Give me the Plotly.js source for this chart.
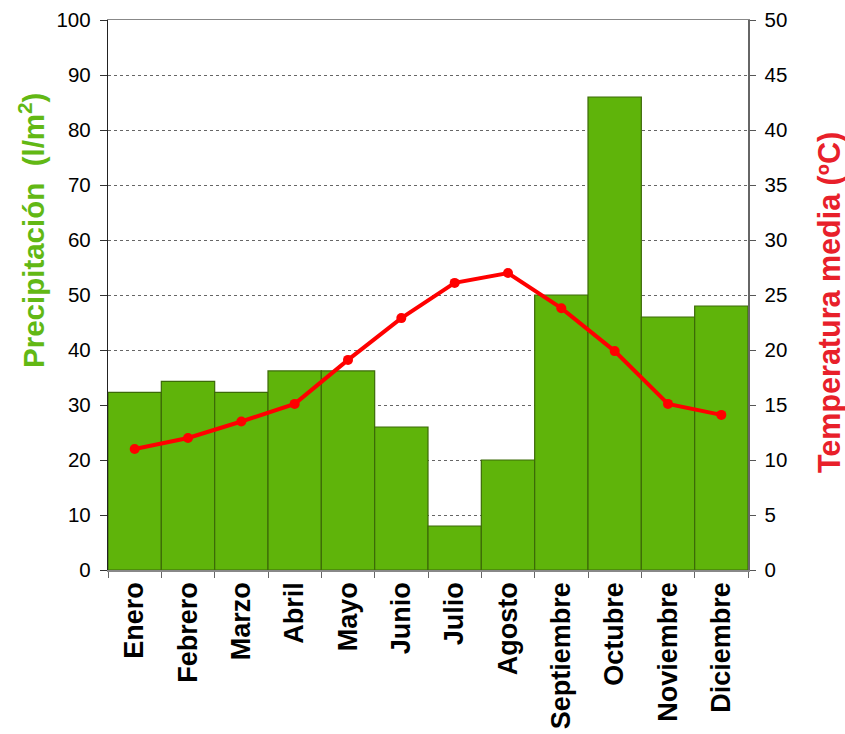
<!DOCTYPE html>
<html>
<head>
<meta charset="utf-8">
<script src="https://cdn.plot.ly/plotly-3.0.1.min.js"></script>
<style>html,body{margin:0;padding:0;background:#fff;}#chart{width:845px;height:734px;}</style>
</head>
<body>
<div id="chart"></div>
<script>
const months = ["Enero","Febrero","Marzo","Abril","Mayo","Junio","Julio","Agosto","Septiembre","Octubre","Noviembre","Diciembre"];
const precipitation = [32.3, 34.3, 32.3, 36.2, 36.2, 26, 8, 20, 50, 86, 46, 48];
const temperature = [11.0, 12.0, 13.5, 15.1, 19.1, 22.9, 26.1, 27.0, 23.8, 19.9, 15.1, 14.1];
const leftTitle = "Precipitación  (l/m<sup>2</sup>)";
const rightTitle = "Temperatura media (ºC)";

const traces = [
  {
    type: "bar", x: months, y: precipitation, name: "Precipitación",
    marker: {color: "#5fb40a", line: {color: "#3c6a08", width: 1.2}},
    hoverinfo: "x+y"
  },
  {
    type: "scatter", mode: "lines+markers", x: months, y: temperature, yaxis: "y2", name: "Temperatura",
    line: {color: "#ff0000", width: 4}, marker: {color: "#ff0000", size: 10}
  }
];

const titleFont = {family: "Liberation Sans, Arial, sans-serif", size: 29.5, weight: "bold"};

const layout = {
  width: 845, height: 734,
  margin: {l: 108, r: 97, t: 20, b: 164},
  showlegend: false,
  bargap: 0,
  paper_bgcolor: "#fff", plot_bgcolor: "#fff",
  font: {family: "Liberation Sans, Arial, sans-serif", color: "#000", size: 20},
  xaxis: {
    type: "category", range: [-0.5, 11.5], tickangle: -90, tickson: "boundaries",
    ticks: "outside", ticklen: 6, tickcolor: "#666", showline: true, linecolor: "#888", linewidth: 1.5,
    mirror: true, showgrid: false, fixedrange: true,
    tickfont: {family: "Liberation Sans, Arial, sans-serif", size: 27, weight: "bold", color: "#000"}
  },
  yaxis: {
    range: [0, 100], dtick: 10, ticks: "outside", ticklen: 7, tickcolor: "#333",
    showline: true, linecolor: "#222", linewidth: 1.2, zeroline: false,
    showgrid: true, gridcolor: "#666", griddash: "dot", gridwidth: 1,
    ticklabelstandoff: 5,
    tickfont: {size: 20.5}
  },
  yaxis2: {
    range: [0, 50], dtick: 5, overlaying: "y", side: "right",
    ticks: "outside", ticklen: 6, tickcolor: "#555",
    showline: true, linecolor: "#666", linewidth: 1.5, zeroline: false, showgrid: false,
    ticklabelstandoff: 5,
    tickfont: {size: 20.5}
  },
  annotations: [
    {text: leftTitle, xref: "paper", yref: "paper", x: (31 - 108) / 640, y: (570 - 231) / 550,
     xanchor: "center", yanchor: "middle", textangle: -90, showarrow: false,
     font: Object.assign({}, titleFont, {color: "#62b814"})},
    {text: rightTitle, xref: "paper", yref: "paper", x: (829 - 108) / 640, y: (570 - 303) / 550,
     xanchor: "center", yanchor: "middle", textangle: -90, showarrow: false,
     font: Object.assign({}, titleFont, {size: 30.5, color: "#e8202a"})}
  ]
};

Plotly.newPlot("chart", traces, layout, {displayModeBar: false, staticPlot: true});
</script>
</body>
</html>
